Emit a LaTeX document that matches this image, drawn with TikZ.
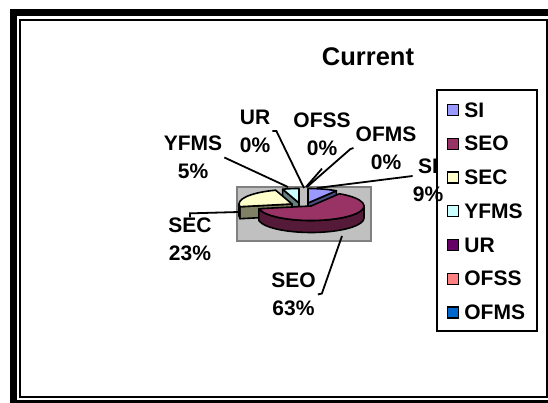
\documentclass[tikz,border=0pt]{standalone}
\usepackage{fontspec}
\setmainfont{Liberation Sans}
\usetikzlibrary{positioning, calc}
\definecolor{cSI}{HTML}{9999FF}
\definecolor{cSIside}{HTML}{4D4D80}
\definecolor{cSEO}{HTML}{993366}
\definecolor{cSEOside}{HTML}{551A38}
\definecolor{cSEC}{HTML}{FFFFCC}
\definecolor{cSECside}{HTML}{808066}
\definecolor{cYFMS}{HTML}{CCFFFF}
\definecolor{cYFMSside}{HTML}{668080}
\definecolor{cUR}{HTML}{660066}
\definecolor{cOFSS}{HTML}{FF8080}
\definecolor{cOFMS}{HTML}{0066CC}
\definecolor{cPlot}{HTML}{C0C0C0}
\definecolor{cPlotEdge}{HTML}{808080}
\tikzset{
  slice/.style={draw=black, line width=1.6pt, line join=round, fill=#1},
  leader/.style={draw=black, line width=1.8pt},
  lbl/.style={font=\fontsize{21}{28}\selectfont\bfseries, align=center, inner sep=0pt},
  key/.style={draw=black, line width=1.4pt, fill=#1, minimum size=11pt, inner sep=0pt},
  keytext/.style={font=\fontsize{21}{24}\selectfont\bfseries, inner sep=0pt},
}

\begin{document}
\begin{tikzpicture}[x=1pt, y=-1pt]
  \useasboundingbox (0,0) rectangle (548,403);

  % Frame
  \fill[black] (10,9) rectangle (17,403);
  \fill[black] (10,9) rectangle (548,16);
  \fill[black] (10,399.5) rectangle (548,403);
  \draw[line width=2pt] (20,20) rectangle (547,397);

  % Title
  \node[font=\fontsize{25.5}{30}\selectfont\bfseries, inner sep=0pt] (title) at (368,57) {Current};

  % Plot area
  \draw[fill=cPlot, draw=cPlotEdge, line width=1.5pt] (237,187) rectangle (371,241);

  % Slice centres (exploded)
  \coordinate (oSI) at (308,203);
  \coordinate (oYFMS) at (299,203);
  \coordinate (oSEC) at (292,204);
  \coordinate (oSEO) at (311,206);

  % SI
  \begin{scope}[shift={(oSI)}]
    \draw[slice=cSIside] (0,0) -- (-57.6:53 and 14.5) -- ++(0,12) -- (0,12) -- cycle;
    \draw[slice=cSI] (0,0) -- (-90:53 and 14.5)
      arc[start angle=-90, end angle=-57.6, x radius=53, y radius=14.5] -- cycle;
  \end{scope}

  % YFMS
  \begin{scope}[shift={(oYFMS)}]
    \draw[slice=cYFMSside] (0,0) -- (252:53 and 14.5) -- ++(0,12) -- (0,12) -- cycle;
    \draw[slice=cYFMS] (0,0) -- (252:53 and 14.5)
      arc[start angle=252, end angle=270, x radius=53, y radius=14.5] -- cycle;
  \end{scope}

  % SEC
  \begin{scope}[shift={(oSEC)}]
    \draw[slice=cSECside] (0,0) -- (169.2:53 and 14.5) -- ++(0,12) -- (0,12) -- cycle;
    \draw[slice=cSECside] (169.2:53 and 14.5)
      arc[start angle=169.2, end angle=180, x radius=53, y radius=14.5] -- ++(0,12)
      arc[start angle=180, end angle=169.2, x radius=53, y radius=14.5] -- cycle;
    \draw[slice=cSEC] (0,0) -- (169.2:53 and 14.5)
      arc[start angle=169.2, end angle=252, x radius=53, y radius=14.5] -- cycle;
  \end{scope}

  % SEO
  \begin{scope}[shift={(oSEO)}]
    \draw[slice=cSEOside] (0:53 and 14.5)
      arc[start angle=0, end angle=169.2, x radius=53, y radius=14.5] -- ++(0,12)
      arc[start angle=169.2, end angle=0, x radius=53, y radius=14.5] -- cycle;
    \draw[slice=cSEO] (0,0) -- (-57.6:53 and 14.5)
      arc[start angle=-57.6, end angle=169.2, x radius=53, y radius=14.5] -- cycle;
  \end{scope}

  % Legend
  \draw[line width=1.8pt, fill=white] (437,90) rectangle (537,331);
  \foreach \nm/\col [count=\i from 0] in {SI/cSI, SEO/cSEO, SEC/cSEC, YFMS/cYFMS,
                                          UR/cUR, OFSS/cOFSS, OFMS/cOFMS} {
    \node[key=\col] (key\nm) at (453,{110+33.75*\i}) {};
    \node[keytext, right=5pt of key\nm] (txt\nm) {\nm};
  }

  % Labels
  \node[lbl] (yfmsLbl) at (193,157.5) {YFMS\\5\%};
  \node[lbl] (urLbl) at (255,131) {UR\\0\%};
  \node[lbl] (ofssLbl) at (322,134) {OFSS\\0\%};
  \node[lbl] (ofmsLbl) at (386,148) {OFMS\\0\%};
  \node[lbl] (siLbl) at (428,180) {SI\\9\%};
  \node[lbl] (secLbl) at (190,239) {SEC\\23\%};
  \node[lbl] (seoLbl) at (293.5,294.5) {SEO\\63\%};

  % Leader lines
  \coordinate (yfmsPt) at (288,187);
  \coordinate (urPt) at (304,188);
  \coordinate (ofssPt) at (306,187);
  \coordinate (ofmsPt) at (307,187);
  \coordinate (siPt) at (317,188);
  \coordinate (secPt) at (239,212);
  \coordinate (seoPt) at (342,236);
  \draw[leader] ([xshift=2pt]yfmsLbl.east) -- (yfmsPt);
  \draw[leader] ([xshift=2pt]urLbl.east) -- ++(4,0) -- (urPt);
  \draw[leader] ([yshift=-13pt]ofssLbl.south) -- (ofssPt);
  \draw[leader] ([xshift=-2pt]ofmsLbl.west) -- ++(-3,1) -- (ofmsPt);
  \draw[leader] ([yshift=4pt]siLbl.west) -- (siPt);
  \draw[leader] (secLbl.north) -- ++(0,-4) -- (secPt);
  \draw[leader] ([xshift=2pt]seoLbl.east) -- ++(4,-1) -- (seoPt);
\end{tikzpicture}
\end{document}
